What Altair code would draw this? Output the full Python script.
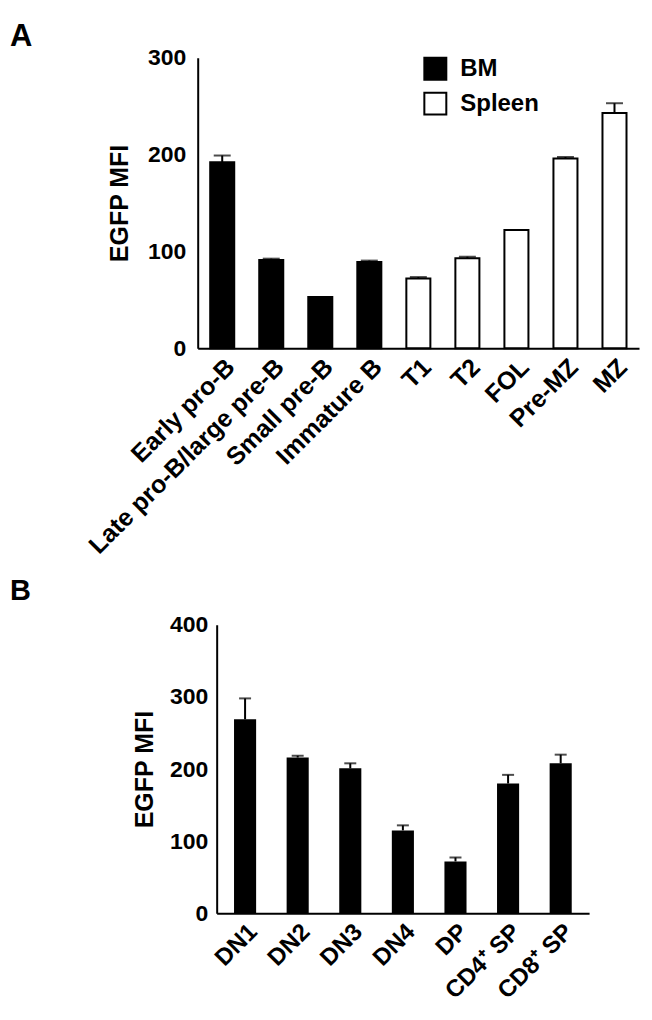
import altair as alt
import pandas as pd

# ---------------- data ----------------
a_cells = ["Early pro-B", "Late pro-B/large pre-B", "Small pre-B", "Immature B",
           "T1", "T2", "FOL", "Pre-MZ", "MZ"]
a_mfi = [192, 91, 53, 89, 72, 93, 122, 196, 243]
a_sem = [7, 1.5, 0, 1.5, 1.5, 1.5, 0, 1.5, 10]
a_tissue = ["BM", "BM", "BM", "BM", "Spleen", "Spleen", "Spleen", "Spleen", "Spleen"]
a_ticks = [0, 100, 200, 300]

b_cells = ["DN1", "DN2", "DN3", "DN4", "DP", "CD4⁺ SP", "CD8⁺ SP"]
b_mfi = [269, 216, 201, 115, 72, 180, 208]
b_sem = [29, 2.5, 7, 7, 5.5, 12, 12]
b_ticks = [0, 100, 200, 300, 400]

y_title = "EGFP MFI"
panel_a = ["A"]
panel_b = ["B"]

FONT = "Liberation Sans"

dfa = pd.DataFrame({"cell": a_cells, "mfi": a_mfi, "sem": a_sem, "tissue": a_tissue})
dfa["upper"] = dfa["mfi"] + dfa["sem"]
dfb = pd.DataFrame({"cell": b_cells, "mfi": b_mfi, "sem": b_sem})
dfb["upper"] = dfb["mfi"] + dfb["sem"]


def x_axis(fs):
    return alt.Axis(labelAngle=-45, labelFontSize=fs, labelFontWeight="bold",
                    labelColor="black", ticks=False, domainColor="black",
                    domainWidth=2, labelPadding=6, labelLimit=400)


def y_axis(values, lp, tp, offset=0):
    return alt.Axis(values=values, title=y_title, labelFontSize=23,
                    labelFontWeight="bold", labelColor="black", titleFontSize=25,
                    titleFontWeight="bold", titleColor="black", ticks=False,
                    domainColor="black", domainWidth=2, labelPadding=lp,
                    titlePadding=tp, offset=offset)


# ---------------- panel A ----------------
xa_scale = alt.Scale(paddingInner=0.51, paddingOuter=0.255)
ya_scale = alt.Scale(domain=[0, 300], nice=False)

base_a = alt.Chart(dfa)
bars_a = base_a.mark_bar(stroke="black", strokeWidth=2).encode(
    x=alt.X("cell:N", sort=a_cells, title=None, scale=xa_scale, axis=x_axis(25)),
    y=alt.Y("mfi:Q", scale=ya_scale, axis=y_axis(a_ticks, 12, 15)),
    fill=alt.Fill("tissue:N",
                  scale=alt.Scale(domain=["BM", "Spleen"], range=["black", "white"]),
                  legend=alt.Legend(title=None, orient="none", legendX=226, legendY=-1,
                                    symbolType="square", symbolSize=484,
                                    symbolStrokeColor="black", symbolStrokeWidth=2,
                                    labelFontSize=24, labelFontWeight="bold",
                                    labelColor="black", labelFont=FONT,
                                    labelOffset=13, rowPadding=5, padding=0)),
)
err_a = base_a.transform_filter("datum.sem > 0").mark_rule(color="black", strokeWidth=2).encode(
    x=alt.X("cell:N", sort=a_cells), y="mfi:Q", y2="upper:Q")
cap_a = base_a.transform_filter("datum.sem > 0").mark_tick(color="black", thickness=2, size=17).encode(
    x=alt.X("cell:N", sort=a_cells), y="upper:Q")
lab_a = alt.Chart(pd.DataFrame({"t": panel_a})).mark_text(
    font=FONT, fontSize=31, fontWeight="bold", color="black", align="left",
    baseline="alphabetic").encode(text="t:N", x=alt.value(-188), y=alt.value(-12))

chart_a = alt.layer(bars_a, err_a, cap_a, lab_a).properties(width=442, height=291)

# ---------------- panel B ----------------
xb_scale = alt.Scale(range=[19, 392], paddingInner=0.58, paddingOuter=0.33)
yb_scale = alt.Scale(domain=[0, 400], nice=False)

base_b = alt.Chart(dfb)
bars_b = base_b.mark_bar(color="black").encode(
    x=alt.X("cell:N", sort=b_cells, title=None, scale=xb_scale, axis=x_axis(24)),
    y=alt.Y("mfi:Q", scale=yb_scale, axis=y_axis(b_ticks, 9, 12, offset=-19)),
)
err_b = base_b.mark_rule(color="black", strokeWidth=2).encode(
    x=alt.X("cell:N", sort=b_cells), y="mfi:Q", y2="upper:Q")
cap_b = base_b.mark_tick(color="black", thickness=2, size=12).encode(
    x=alt.X("cell:N", sort=b_cells), y="upper:Q")
lab_b = alt.Chart(pd.DataFrame({"t": panel_b})).mark_text(
    font=FONT, fontSize=29, fontWeight="bold", color="black", align="left",
    baseline="alphabetic").encode(text="t:N", x=alt.value(-188), y=alt.value(-25))

chart_b = alt.layer(bars_b, err_b, cap_b, lab_b).properties(width=392, height=289)

chart = alt.vconcat(chart_a, chart_b, spacing=18).properties(
    padding={"left": 2, "top": 12, "right": 5, "bottom": 5}
).configure_view(stroke=None).configure_axis(
    labelFont=FONT, titleFont=FONT, grid=False
).configure_legend(labelFont=FONT)

chart.save("out.html", embed_options={"renderer": "svg", "actions": False})
